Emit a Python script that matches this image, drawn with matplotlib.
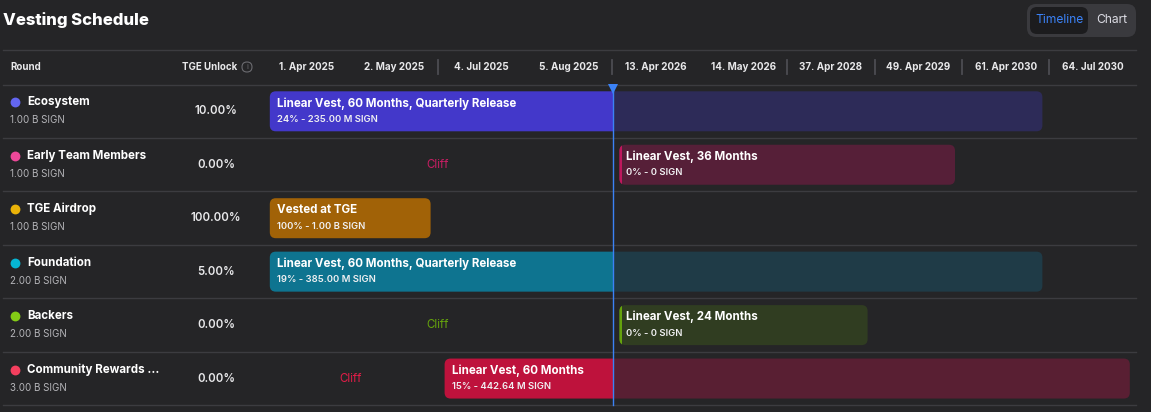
import matplotlib
matplotlib.use("Agg")
import matplotlib.pyplot as plt
from matplotlib.patches import FancyBboxPatch, Rectangle

plt.rcParams['font.family'] = ['Inter', 'DejaVu Sans']

# ---------------- data ----------------
date_labels = ["1. Apr 2025", "2. May 2025", "4. Jul 2025", "5. Aug 2025", "13. Apr 2026",
               "14. May 2026", "37. Apr 2028", "49. Apr 2029", "61. Apr 2030", "64. Jul 2030"]
header_separators = [2, 4, 6, 7, 8, 9]          # column boundaries with a divider
rounds = ["Ecosystem", "Early Team Members", "TGE Airdrop", "Foundation", "Backers",
          "Community Rewards ..."]
amounts = ["1.00 B SIGN", "1.00 B SIGN", "1.00 B SIGN", "2.00 B SIGN", "2.00 B SIGN", "3.00 B SIGN"]
tge_unlock = [10.0, 0.0, 100.0, 5.0, 0.0, 0.0]
cliff_start = [None, 0, None, None, 0, 0]        # column index where cliff begins
vest_start = [0, 4, 0, 0, 4, 2]                  # column index
vest_end = [9, 8, 2, 9, 7, 10]
vest_title = ["Linear Vest, 60 Months, Quarterly Release", "Linear Vest, 36 Months", "Vested at TGE",
              "Linear Vest, 60 Months, Quarterly Release", "Linear Vest, 24 Months", "Linear Vest, 60 Months"]
vest_sub = ["24% - 235.00 M SIGN", "0% - 0 SIGN", "100% - 1.00 B SIGN",
            "19% - 385.00 M SIGN", "0% - 0 SIGN", "15% - 442.64 M SIGN"]
now_pos = 4.01

# ---------------- styles ----------------
BG = "#252527"
LINE = "#3c3c40"
dot_colors = ["#6366f1", "#ec4899", "#eab308", "#06b6d4", "#84cc16", "#f43f5e"]
solid_colors = ["#4338ca", "#be185d", "#a16207", "#0e7490", "#65a30d", "#be123c"]
dark_colors = ["#2d2b58", "#561f38", "#a16207", "#1f3b47", "#303d21", "#591f33"]
cliff_colors = ["#be185d", "#c81e63", "#eab308", "#06b6d4", "#65a30d", "#e11d48"]
NOW_C = "#3b82f6"

W, H = 1151, 412
COL_W, X0 = 87.4, 262.8
ROW_H, Y0 = 53.45, 111.3

def px_x(p):
    return (p - X0) / COL_W

def px_y(p):
    return (p - Y0) / ROW_H

fig = plt.figure(figsize=(W / 100, H / 100), dpi=100)
fig.patch.set_facecolor(BG)
ax = fig.add_axes([0, 0, 1, 1])
ax.set_facecolor(BG)
ax.set_xlim(px_x(0), px_x(W))
ax.set_ylim(px_y(H), px_y(0))
ax.axis('off')

ASP = COL_W / ROW_H

def rbox(x0, x1, y0, y1, color, r_px=6, clip=None, z=2):
    p = FancyBboxPatch((x0, y0), x1 - x0, y1 - y0,
                       boxstyle=f"round,pad=0,rounding_size={r_px / COL_W}",
                       mutation_aspect=ASP, fc=color, ec='none', zorder=z)
    ax.add_patch(p)
    if clip is not None:
        cr = Rectangle((clip[0], y0 - 1), clip[1] - clip[0], (y1 - y0) + 2, transform=ax.transData)
        p.set_clip_path(cr)
    return p

# title
ax.text(px_x(3), px_y(20), "Vesting Schedule", color="white", fontsize=12,
        fontweight='heavy', va='center', ha='left')

# toggle
rbox(px_x(1027), px_x(1136), px_y(4), px_y(37), "#3a3a3e", r_px=9)
rbox(px_x(1030), px_x(1088), px_y(7), px_y(34), "#1c1c1e", r_px=7, z=3)
ax.text(px_x(1059), px_y(20.5), "Timeline", color=NOW_C, fontsize=8.7, ha='center', va='center', zorder=4)
ax.text(px_x(1112), px_y(20.5), "Chart", color="#dcdce4", fontsize=8.7, ha='center', va='center', zorder=4)

# table lines
n = len(rounds)
lx0, lx1 = px_x(3), px_x(1136)
ax.plot([lx0, lx1], [px_y(50)] * 2, color=LINE, lw=1, zorder=1)
for i in range(n + 1):
    ax.plot([lx0, lx1], [i - 0.5] * 2, color=LINE, lw=1, zorder=1)

# header
hy = px_y(67)
ax.text(px_x(10), hy, "Round", color="#e8e8ea", fontsize=7, fontweight='bold', va='center')
ax.text(px_x(237), hy, "TGE Unlock", color="#e8e8ea", fontsize=7, fontweight='bold', va='center', ha='right')
ax.add_patch(FancyBboxPatch((px_x(247) - 5 / COL_W, px_y(67) - 5 / ROW_H), 10 / COL_W, 10 / ROW_H,
                            boxstyle=f"round,pad=0,rounding_size={5 / COL_W}", mutation_aspect=ASP,
                            fc='none', ec="#6b6b70", lw=0.8))
ax.text(px_x(247), hy, "i", color="#6b6b70", fontsize=5.5, ha='center', va='center')
for j, lab in enumerate(date_labels):
    ax.text(j + 0.5, hy, lab, color="#e8e8ea", fontsize=7.1, fontweight='bold', ha='center', va='center')
for b in header_separators:
    ax.plot([b, b], [px_y(60), px_y(74)], color="#4c4c52", lw=1.3, zorder=1)

bar_h = 40 / ROW_H
pad_l, pad_r = 7 / COL_W, 7 / COL_W
for i in range(n):
    yc = i
    # left columns
    ax.scatter([px_x(15)], [yc - 9 / ROW_H], s=50, color=dot_colors[i], zorder=3, linewidths=0)
    ax.text(px_x(27), yc - 9 / ROW_H, rounds[i], color="white", fontsize=8.3, fontweight='bold', va='center')
    ax.text(px_x(10), yc + 9 / ROW_H, amounts[i], color="#b4b4b8", fontsize=7.1, va='center')
    ax.text(px_x(216), yc, f"{tge_unlock[i]:.2f}%", color="#e8e8ea", fontsize=8.3,
            fontweight='semibold', ha='center', va='center')
    # cliff
    if cliff_start[i] is not None:
        ax.text((cliff_start[i] + vest_start[i]) / 2, yc, "Cliff", color=cliff_colors[i],
                fontsize=8.3, ha='center', va='center')
    # bars
    x0 = vest_start[i] + pad_l
    x1 = vest_end[i] - pad_r
    y0, y1 = yc - bar_h / 2, yc + bar_h / 2
    if cliff_start[i] is not None and x0 > now_pos:
        rbox(x0, x1, y0, y1, dark_colors[i])
        rbox(x0, x1, y0, y1, solid_colors[i], clip=(x0 - 1, x0 + 3 / COL_W), z=3)
    elif x1 <= now_pos:
        rbox(x0, x1, y0, y1, solid_colors[i])
    else:
        rbox(x0, x1, y0, y1, dark_colors[i], clip=(now_pos, x1 + 1))
        rbox(x0, x1, y0, y1, solid_colors[i], clip=(x0 - 1, now_pos))
    ax.text(x0 + 7 / COL_W, yc - 8 / ROW_H, vest_title[i], color="white", fontsize=8.3,
            fontweight='bold', va='center', zorder=5)
    ax.text(x0 + 7 / COL_W, yc + 8 / ROW_H, vest_sub[i], color="#f0f0f2", fontsize=6.8,
            fontweight='semibold', va='center', zorder=5)

# now line
ax.plot([now_pos, now_pos], [px_y(87), n - 0.5], color=NOW_C, lw=1, zorder=6)
ax.plot([now_pos], [px_y(89)], marker='v', color=NOW_C, markersize=7, zorder=7, markeredgewidth=0)

fig.savefig("out.png", dpi=100, facecolor=BG)
